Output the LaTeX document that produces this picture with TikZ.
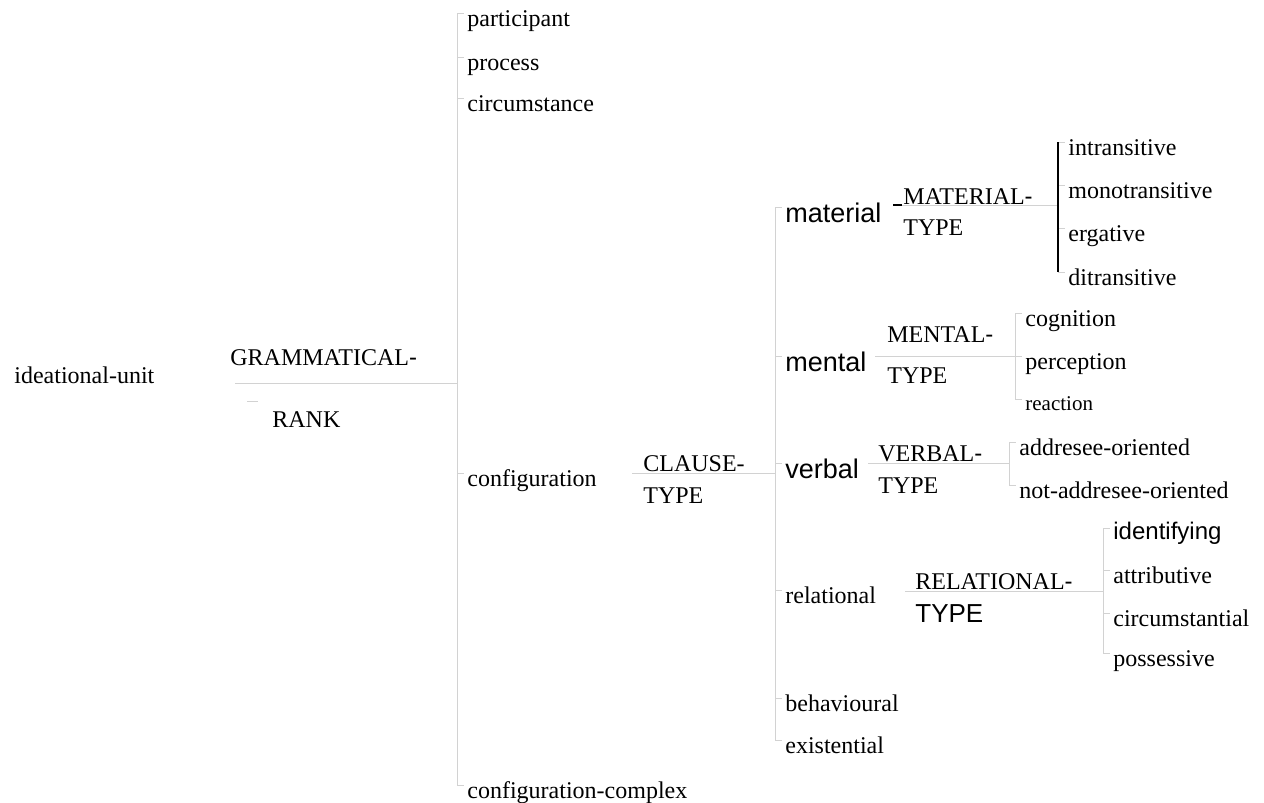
\documentclass[tikz,border=0pt]{standalone}
\usepackage{fontspec}
\setmainfont{Liberation Serif}
\setsansfont{Liberation Sans}
\usepackage{tikz}
\usetikzlibrary{positioning}
\definecolor{linegray}{RGB}{210,210,210}

\begin{document}
\begin{tikzpicture}[x=0.5pt,y=-0.5pt,
                    featnode/.style={anchor=north west, inner xsep=1.5pt, inner ysep=0pt, text height=6.75pt, font=\fontsize{12}{14}\selectfont},
                    sansfeat/.style={featnode, text height=7.5pt, font=\sffamily\fontsize{13.5}{16}\selectfont},
                    sysnode/.style={anchor=base west, inner sep=0pt, font=\fontsize{12}{14}\selectfont},
                    sysline/.style={draw=linegray, line width=0.5pt},
                    gateline/.style={draw=black, line width=1pt}]
                \useasboundingbox (0,0) rectangle (1264,803);
                % grammatical rank
                \node[sysnode] (unit) at (14,383) {ideational-unit};
                \node[sysnode] (rank1) at (230,365) {GRAMMATICAL\textsf{-}};
                \node[sysnode] (rank2) at (272,427) {RANK};
                \coordinate (rankin) at (235,383);
                \coordinate (rankmark) at (247,401);
                \coordinate (rankbar) at (457,0);
                \node[featnode] (participant) at (464,13) {participant};
                \node[featnode] (process) at (464,57) {process};
                \node[featnode] (circumstance) at (464,98) {circumstance};
                \node[featnode] (configuration) at (464,473) {configuration};
                \node[featnode] (complex) at (464,785) {configuration-complex};
                \draw[sysline] (rankin) -- (rankin -| rankbar);
                \draw[sysline] (rankmark) -- ++(11,0);
                \draw[sysline] (rankbar |- participant.north) -- (rankbar |- complex.north);
                \draw[sysline] (rankbar |- participant.north) -- (participant.north west);
                \draw[sysline] (rankbar |- process.north) -- (process.north west);
                \draw[sysline] (rankbar |- circumstance.north) -- (circumstance.north west);
                \draw[sysline] (rankbar |- configuration.north) -- (configuration.north west);
                \draw[sysline] (rankbar |- complex.north) -- (complex.north west);
                % clause type
                \node[sysnode] (clause1) at (643,471) {CLAUSE-};
                \node[sysnode] (clause2) at (643,503) {TYPE};
                \coordinate (clausein) at (632,473);
                \coordinate (clausebar) at (775,0);
                \node[sansfeat] (material) at (782,207) {material};
                \node[sansfeat] (mental) at (782,356) {mental};
                \node[sansfeat] (verbal) at (782,463) {verbal};
                \node[featnode] (relational) at (782,590) {relational};
                \node[featnode] (behavioural) at (782,698) {behavioural};
                \node[featnode] (existential) at (782,740) {existential};
                \draw[sysline] (clausein) -- (clausein -| clausebar);
                \draw[sysline] (clausebar |- material.north) -- (clausebar |- existential.north);
                \draw[sysline] (clausebar |- material.north) -- (material.north west);
                \draw[sysline] (clausebar |- mental.north) -- (mental.north west);
                \draw[sysline] (clausebar |- verbal.north) -- (verbal.north west);
                \draw[sysline] (clausebar |- relational.north) -- (relational.north west);
                \draw[sysline] (clausebar |- behavioural.north) -- (behavioural.north west);
                \draw[sysline] (clausebar |- existential.north) -- (existential.north west);
                % material type
                \node[sysnode] (mattype1) at (903,204) {MATERIAL\textsf{-}};
                \node[sysnode] (mattype2) at (903,235) {TYPE};
                \coordinate (matin) at (893,205);
                \coordinate (matbar) at (1058,0);
                \node[featnode] (intransitive) at (1065,142) {intransitive};
                \node[featnode] (monotransitive) at (1065,185) {monotransitive};
                \node[featnode] (ergative) at (1065,228) {ergative};
                \node[featnode] (ditransitive) at (1065,272) {ditransitive};
                \draw[sysline] (matin) -- (matin -| matbar);
                \draw[black, line width=0.6pt] (matin) -- ++(9,0);
                \draw[sysline] (matbar |- intransitive.north) -- (intransitive.north west);
                \draw[sysline] (matbar |- monotransitive.north) -- (monotransitive.north west);
                \draw[sysline] (matbar |- ergative.north) -- (ergative.north west);
                \draw[sysline] (matbar |- ditransitive.north) -- (ditransitive.north west);
                \draw[gateline] (matbar |- intransitive.north) -- (matbar |- ditransitive.north);
                % mental type
                \node[sysnode] (menttype1) at (887,342) {MENTAL\textsf{-}};
                \node[sysnode] (menttype2) at (887,383) {TYPE};
                \coordinate (mentin) at (875,356);
                \coordinate (mentbar) at (1015,0);
                \node[featnode] (cognition) at (1022,313) {cognition};
                \node[featnode] (perception) at (1022,356) {perception};
                \node[featnode, text height=5.5pt, font=\fontsize{10.5}{12}\selectfont] (reaction) at (1022,399) {reaction};
                \draw[sysline] (mentin) -- (mentin -| mentbar);
                \draw[sysline] (mentbar |- cognition.north) -- (mentbar |- reaction.north);
                \draw[sysline] (mentbar |- cognition.north) -- (cognition.north west);
                \draw[sysline] (mentbar |- perception.north) -- (perception.north west);
                \draw[sysline] (mentbar |- reaction.north) -- (reaction.north west);
                % verbal type
                \node[sysnode] (verbtype1) at (878,461) {VERBAL\textsf{-}};
                \node[sysnode] (verbtype2) at (878,493) {TYPE};
                \coordinate (verbin) at (868,463);
                \coordinate (verbbar) at (1009,0);
                \node[featnode] (addresee) at (1016,442) {addresee-oriented};
                \node[featnode] (notaddresee) at (1016,485) {not-addresee-oriented};
                \draw[sysline] (verbin) -- (verbin -| verbbar);
                \draw[sysline] (verbbar |- addresee.north) -- (verbbar |- notaddresee.north);
                \draw[sysline] (verbbar |- addresee.north) -- (addresee.north west);
                \draw[sysline] (verbbar |- notaddresee.north) -- (notaddresee.north west);
                % relational type
                \node[sysnode] (reltype1) at (915,589) {RELATIONAL\textsf{-}};
                \node[sysnode, font=\sffamily\fontsize{13}{15}\selectfont] (reltype2) at (915,622) {TYPE};
                \coordinate (relin) at (905,591);
                \coordinate (relbar) at (1103,0);
                \node[sansfeat, text height=5.5pt, font=\sffamily\fontsize{12}{14}\selectfont] (identifying) at (1110,528) {identifying};
                \node[featnode] (attributive) at (1110,570) {attributive};
                \node[featnode] (circumstantial) at (1110,613) {circumstantial};
                \node[featnode] (possessive) at (1110,653) {possessive};
                \draw[sysline] (relin) -- (relin -| relbar);
                \draw[sysline] (relbar |- identifying.north) -- (relbar |- possessive.north);
                \draw[sysline] (relbar |- identifying.north) -- (identifying.north west);
                \draw[sysline] (relbar |- attributive.north) -- (attributive.north west);
                \draw[sysline] (relbar |- circumstantial.north) -- (circumstantial.north west);
                \draw[sysline] (relbar |- possessive.north) -- (possessive.north west);
            \end{tikzpicture}
\end{document}
